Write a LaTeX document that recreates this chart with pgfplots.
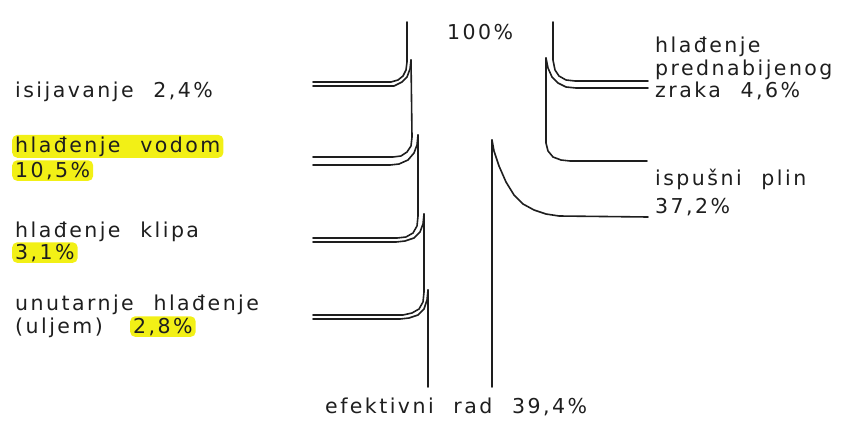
\documentclass[border=0pt]{standalone}
\usepackage{pgfplots}
\pgfplotsset{compat=1.18}
\usepackage{fontspec}
\setmainfont{DejaVu Sans}[LetterSpace=12,WordSpace=2.2]
\definecolor{hl}{RGB}{242,240,22}
\definecolor{ink}{RGB}{30,30,30}
\begin{document}
\begin{tikzpicture}
\begin{axis}[scale only axis, width=849pt, height=428pt,
  xmin=0, xmax=849, ymin=0, ymax=428, y dir=reverse,
  hide axis, clip=false,
  every axis plot post/.append style={draw=ink, solid, line width=1.6pt, line join=round, line cap=round, mark=none},
  nodes={font=\fontsize{20.5}{23}\selectfont, text=ink}]
% left side: main flow edges and branches
\addplot coordinates {(407,22) (407,62) (406,70) (403,76) (398,80) (391,82) (313,82)};
\addplot coordinates {(411,60) (410,69) (407,77) (402,82) (394,86) (313,86)};
\addplot coordinates {(411,60) (412,137) (411,146) (407,152) (401,156) (393,157) (313,157)};
\addplot coordinates {(418,135) (417,145) (414,153) (408,160) (399,164) (390,165) (313,165)};
\addplot coordinates {(418,135) (418,216) (417,226) (413,233) (406,237) (397,238) (313,238)};
\addplot coordinates {(424,214) (423,224) (420,232) (414,238) (405,241) (396,242) (313,242)};
\addplot coordinates {(424,214) (424,292) (423,302) (419,309) (412,313) (403,315) (313,315)};
\addplot coordinates {(428,290) (427,300) (424,309) (418,315) (409,318) (400,319) (313,319)};
\addplot coordinates {(428,290) (428,387)};
% right side
\addplot coordinates {(553,22) (553,60) (555,70) (559,76) (566,80) (575,81) (648,81)};
\addplot coordinates {(546,58) (548,68) (552,77) (558,83) (566,87) (576,88) (648,88)};
\addplot coordinates {(546,58) (546,143) (548,151) (553,157) (561,160) (570,161) (647,161)};
\addplot coordinates {(492,140) (494,151) (499,166) (506,182) (514,195) (523,204) (534,210) (546,214) (559,216) (648,217)};
\addplot coordinates {(492,140) (492,387)};
% labels
\node[anchor=base west, inner sep=0pt] at (axis cs:447,40) {100\%};
\node[anchor=base west, inner sep=0pt] at (axis cs:15,97) {isijavanje 2,4\%};
\node[anchor=base west, fill=hl, rounded corners=5pt, inner xsep=3pt, inner ysep=1.5pt] at (axis cs:12,152) {hlađenje vodom};
\node[anchor=base west, fill=hl, rounded corners=5pt, inner xsep=3pt, inner ysep=1.5pt] at (axis cs:12,177) {10,5\%};
\node[anchor=base west, inner sep=0pt] at (axis cs:15,237) {hlađenje klipa};
\node[anchor=base west, fill=hl, rounded corners=5pt, inner xsep=3pt, inner ysep=1.5pt] at (axis cs:12,259) {3,1\%};
\node[anchor=base west, inner sep=0pt] at (axis cs:15,310) {unutarnje hlađenje};
\node[anchor=base west, inner sep=0pt] at (axis cs:15,333) {(uljem)};
\node[anchor=base west, fill=hl, rounded corners=5pt, inner xsep=3pt, inner ysep=1.5pt] at (axis cs:130,333) {2,8\%};
\node[anchor=base west, inner sep=0pt] at (axis cs:655,53) {hlađenje};
\node[anchor=base west, inner sep=0pt] at (axis cs:655,75) {prednabijenog};
\node[anchor=base west, inner sep=0pt] at (axis cs:655,97) {zraka 4,6\%};
\node[anchor=base west, inner sep=0pt] at (axis cs:655,185) {ispušni plin};
\node[anchor=base west, inner sep=0pt] at (axis cs:655,213) {37,2\%};
\node[anchor=base west, inner sep=0pt] at (axis cs:325,413) {efektivni rad 39,4\%};
\end{axis}
\pgfresetboundingbox
\useasboundingbox (current axis.south west) rectangle (current axis.north east);
\end{tikzpicture}
\end{document}
